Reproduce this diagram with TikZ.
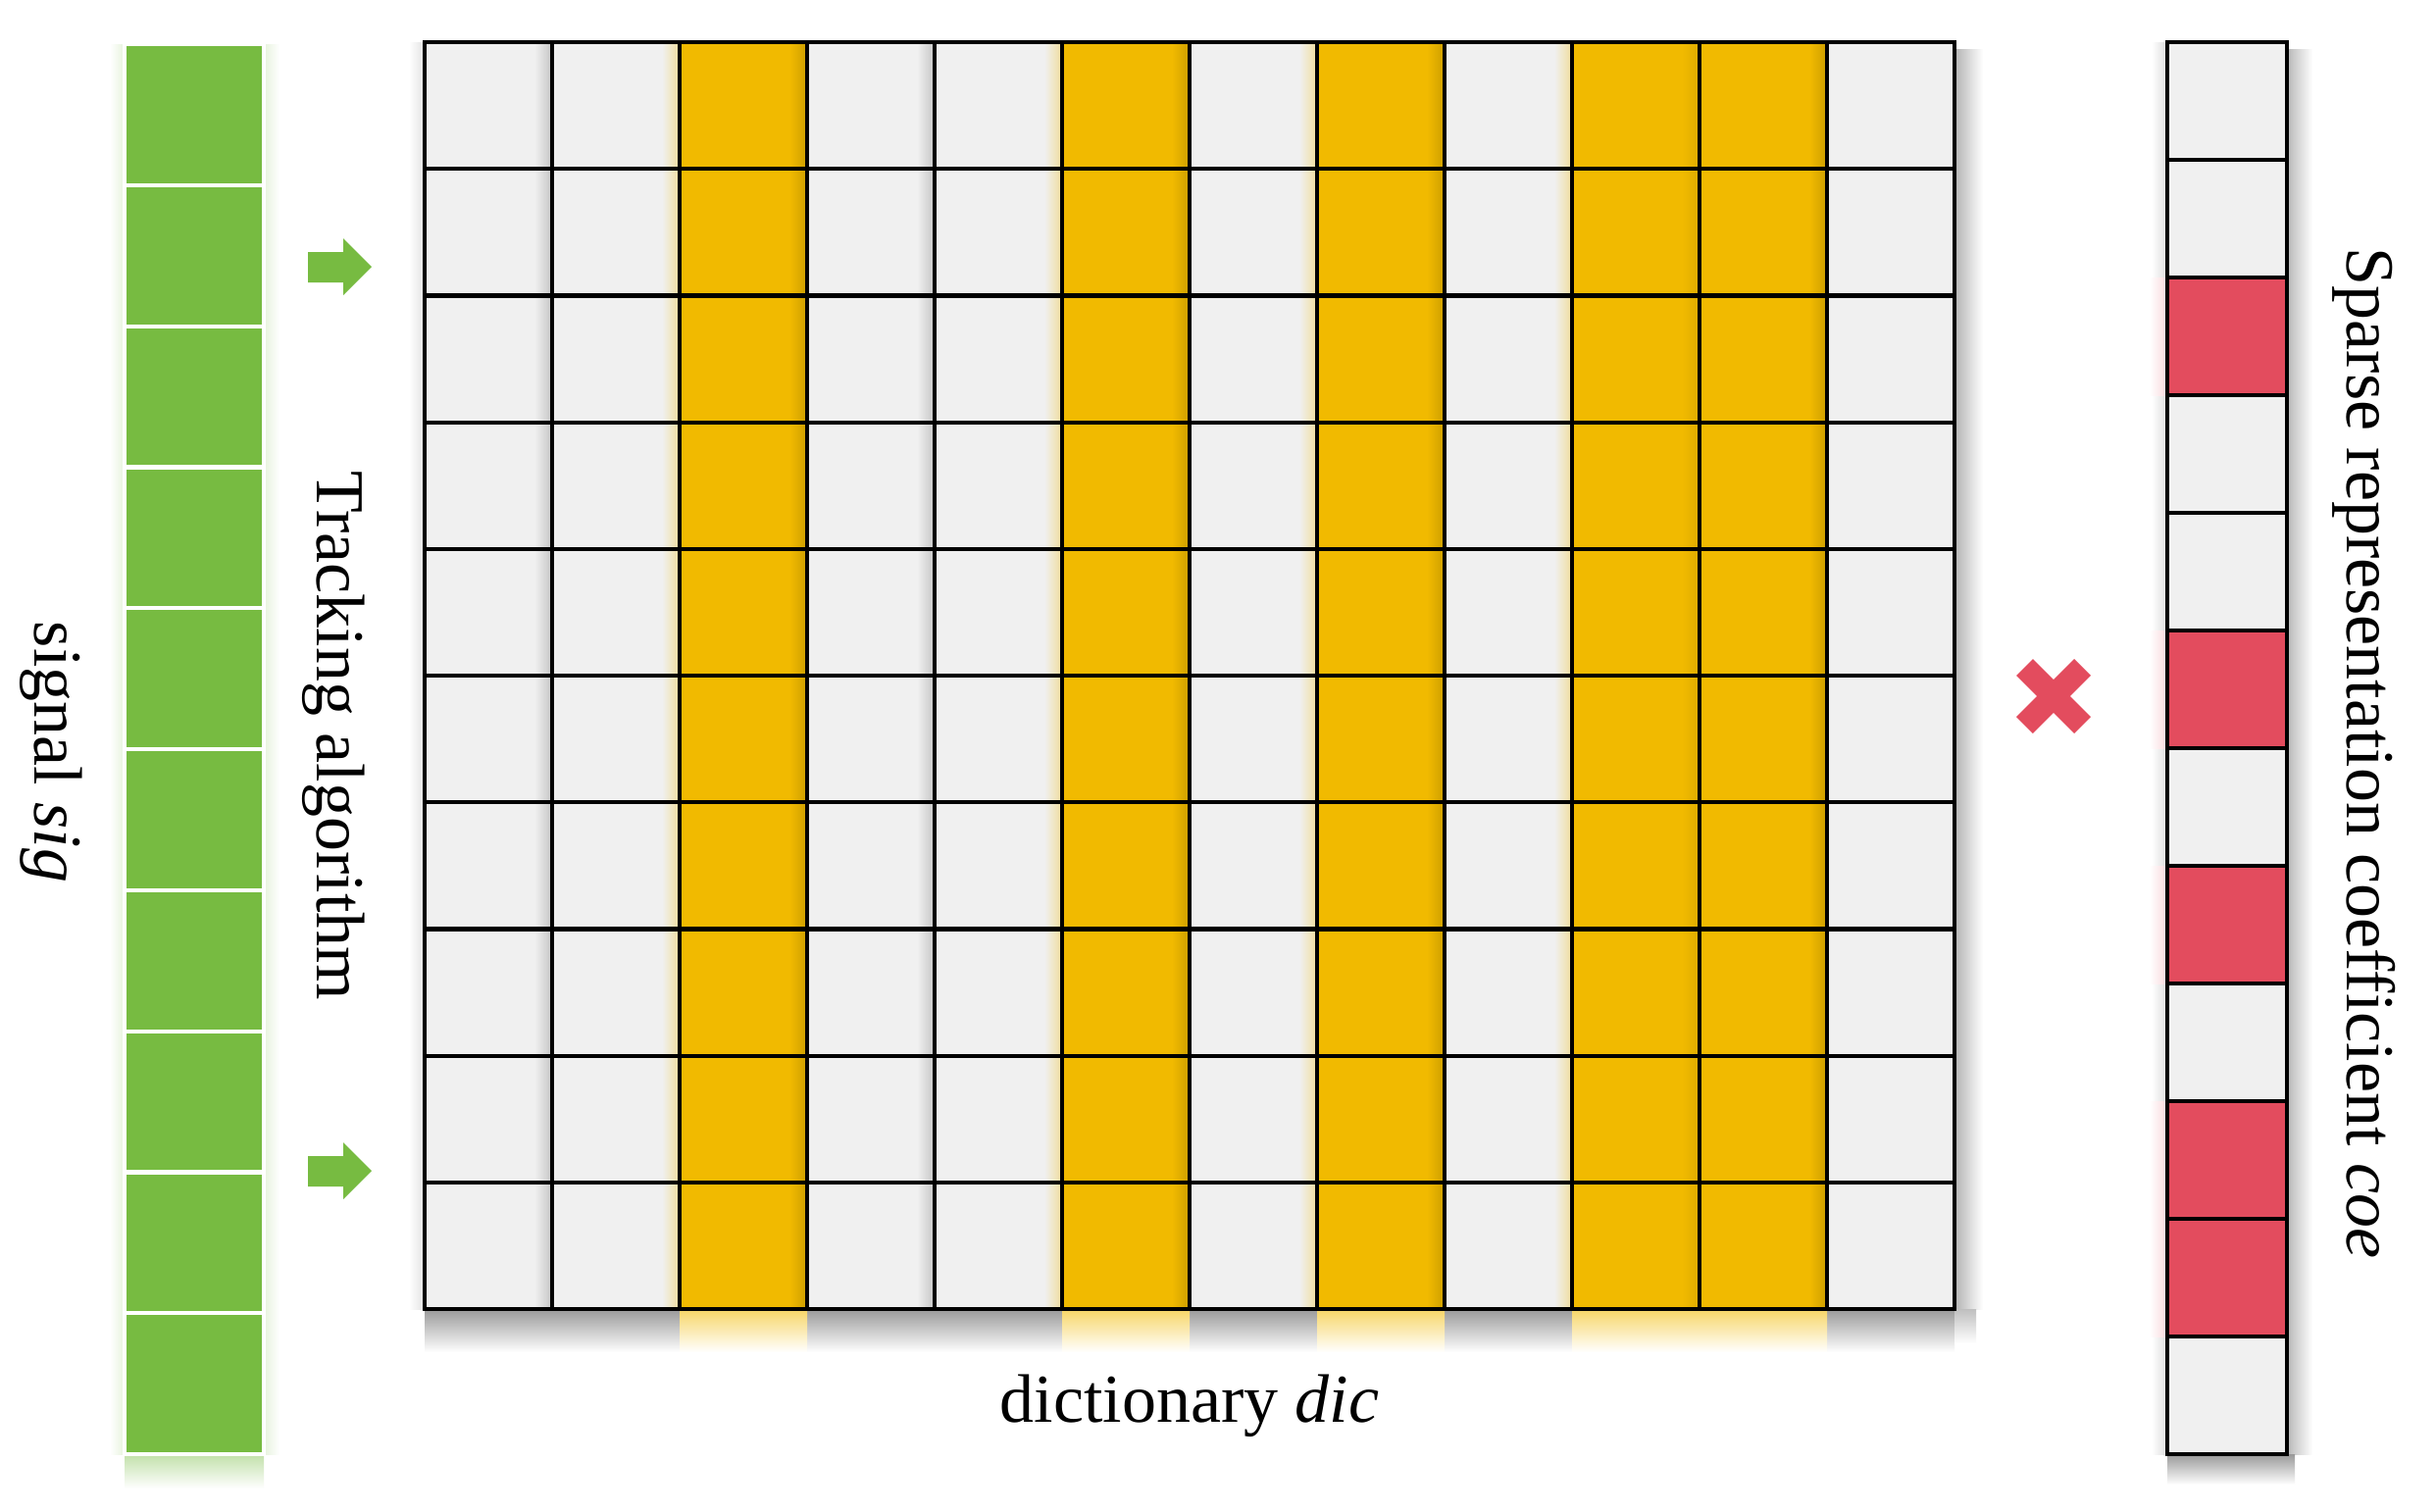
\documentclass[tikz,border=0pt]{standalone}
\usepackage{fontspec}
\setmainfont{Liberation Serif}
\definecolor{sgreen}{RGB}{119,187,65}
\definecolor{dyellow}{RGB}{241,186,0}
\definecolor{cellgray}{RGB}{240,240,240}
\definecolor{cred}{RGB}{227,76,94}
\begin{document}
\begin{tikzpicture}[x=0.01cm,y=-0.01cm,
  gl/.style={draw=black,line width=1.2pt},
  lbl/.style={inner sep=0pt,font=\fontsize{19.9}{24}\selectfont},
  vline/.style={left color=cellgray,right color=cellgray!82!black},
  gshadow/.style={top color=black!40,middle color=black!14,bottom color=white},
  yshadow/.style={top color=dyellow!60,middle color=dyellow!22,bottom color=white},
]
\useasboundingbox (0,0) rectangle (2484,1541);
\fill[white] (0,0) rectangle (2484,1541);

% ---------- signal column ----------
\shade[top color=sgreen!45,middle color=sgreen!18,bottom color=white] (127,1483) rectangle (269,1518);
\shade[left color=white,right color=sgreen!18] (112,45) rectangle (127,1483);
\shade[left color=sgreen!18,right color=white] (269,45) rectangle (285,1483);
\foreach \i in {0,...,9}
  \filldraw[fill=sgreen,draw=white,line width=1.2pt] (127,{45+143.8*\i}) rectangle (269,{45+143.8*(\i+1)});

% ---------- arrows ----------
\fill[sgreen] (314,257) -- (350,257) -- (350,243) -- (379,272) -- (350,301) -- (350,288) -- (314,288) -- cycle;
\fill[sgreen] (314,1179) -- (350,1179) -- (350,1165) -- (379,1194) -- (350,1223) -- (350,1210) -- (314,1210) -- cycle;

% ---------- dictionary ----------
\shade[left color=white,right color=black!12] (417,43) rectangle (433,1335);
\shade[left color=black!30,right color=white] (1993,50) rectangle (2022,1335);
\fill[cellgray] (433,43) rectangle (1993,1335);
\foreach \c in {2,5,7,9,10}
  \fill[dyellow] ({433+130*\c},43) rectangle ++(130,1292);
% bottom shadows
\foreach \c in {0,1,3,4,6,8,11}
  \shade[gshadow] ({433+130*\c},1335) rectangle ++(130,44);
\foreach \c in {2,5,7,9,10}
  \shade[yshadow] ({433+130*\c},1335) rectangle ++(130,44);
\shade[top color=black!25,bottom color=white] (1993,1335) rectangle (2015,1370);
% soft shadows at the column borders
\foreach \c in {1,4}
  \shade[vline] ({433+130*\c-18},43) rectangle ++(18,1292);
\foreach \c in {2,5,7,9}
  \shade[left color=cellgray,right color=cellgray!65!dyellow] ({433+130*\c-18},43) rectangle ++(18,1292);
\foreach \c in {3,6,8,11}
  \shade[left color=dyellow,right color=dyellow!85!black] ({433+130*\c-18},43) rectangle ++(18,1292);
\shade[left color=dyellow,right color=dyellow!92!black] ({433+130*10-18},43) rectangle ++(18,1292);
% grid lines
\foreach \c in {1,...,11}
  \draw[gl] ({433+130*\c},43) -- ++(0,1292);
\foreach \r in {1,...,9}
  \draw[gl] (433,{43+129.2*\r}) -- (1993,{43+129.2*\r});
\draw[gl] (433,43) rectangle (1993,1335);

% ---------- multiplication sign ----------
\draw[cred,line width=6.8pt] (2064.5,680.5) -- (2123.5,739.5);
\draw[cred,line width=6.8pt] (2064.5,739.5) -- (2123.5,680.5);

% ---------- coefficient column ----------
\shade[left color=white,right color=black!14] (2194,43) rectangle (2210,1483);
\shade[left color=black!28,right color=white] (2332,50) rectangle (2358,1483);
\shade[gshadow] (2210,1483) rectangle (2340,1514);
\foreach \i in {2,5,7,9,10}
  \shade[left color=white,right color=cred!22] (2192,{43+120*\i}) rectangle ++(18,120);
\fill[cellgray] (2210,43) rectangle (2332,1483);
\foreach \i in {2,5,7,9,10}
  \fill[cred] (2210,{43+120*\i}) rectangle ++(122,120);
\foreach \i in {1,...,11}
  \draw[gl] (2210,{43+120*\i}) -- (2332,{43+120*\i});
\draw[gl] (2210,43) rectangle (2332,1483);

% ---------- labels ----------
\node[lbl,rotate=-90,anchor=base] (sig) at (35,767) {signal \textit{sig}};
\node[lbl,rotate=-90,anchor=base] (track) at (323,750) {Tracking algorithm};
\node[lbl,anchor=base] (dic) at (1213,1450) {dictionary \textit{dic}};
\node[lbl,rotate=-90,anchor=base] (coe) at (2393,768) {Sparse representation coefficient \textit{coe}};
\end{tikzpicture}
\end{document}
